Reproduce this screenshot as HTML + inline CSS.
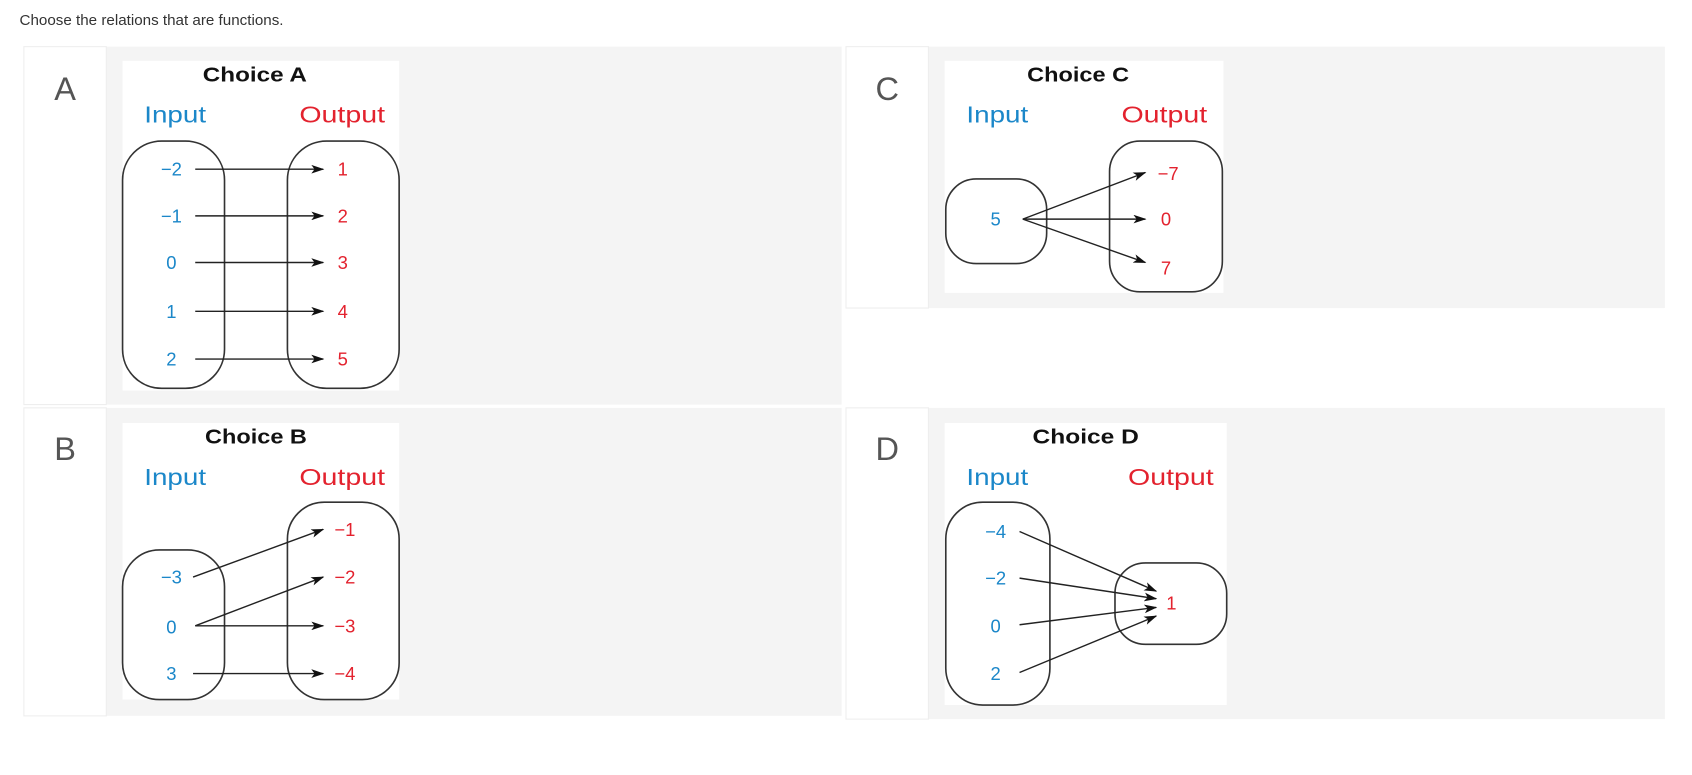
<!DOCTYPE html>
<html><head><meta charset="utf-8"><style>
html,body{margin:0;padding:0;background:#fff;width:1692px;height:775px;overflow:hidden}
svg{display:block}
.t{font-family:"Liberation Sans",sans-serif}
.ti{font-family:"Liberation Sans",sans-serif;font-weight:bold;font-size:19px;fill:#111}
.in{font-family:"Liberation Sans",sans-serif;font-size:21px;fill:#1b87c9}
.out{font-family:"Liberation Sans",sans-serif;font-size:21px;fill:#e3222e}
.ni{font-family:"Liberation Sans",sans-serif;font-size:17px;fill:#1b87c9;text-anchor:middle}
.no{font-family:"Liberation Sans",sans-serif;font-size:17px;fill:#e3222e;text-anchor:middle}
.lt{font-family:"Liberation Sans",sans-serif;font-size:30px;fill:#555;text-anchor:middle}
.ov{fill:none;stroke:#333;stroke-width:1.5}
.ar{stroke:#222;stroke-width:1.3;marker-end:url(#m)}
</style></head><body>
<svg width="1692" height="775" viewBox="0 0 1560 714.5">
<defs><marker id="m" markerWidth="12" markerHeight="8" refX="11" refY="4" orient="auto" markerUnits="userSpaceOnUse"><path d="M0,0 L12,4 L0,8 L3,4 z" fill="#111"/></marker></defs>
<text class="t" x="18" y="23" font-size="14" fill="#333">Choose the relations that are functions.</text>
<rect x="22" y="43" width="754" height="330" fill="#f4f4f4"/><rect x="22" y="43" width="76" height="330" fill="#fff" stroke="#eee"/>
<rect x="780" y="43" width="755" height="241" fill="#f4f4f4"/><rect x="780" y="43" width="76" height="241" fill="#fff" stroke="#eee"/>
<rect x="22" y="376" width="754" height="284" fill="#f4f4f4"/><rect x="22" y="376" width="76" height="284" fill="#fff" stroke="#eee"/>
<rect x="780" y="376" width="755" height="287" fill="#f4f4f4"/><rect x="780" y="376" width="76" height="287" fill="#fff" stroke="#eee"/>
<text class="lt" x="60" y="92">A</text><text class="lt" x="818" y="92">C</text>
<text class="lt" x="60" y="424">B</text><text class="lt" x="818" y="424">D</text>
<!-- A -->
<rect x="113" y="56" width="255" height="304" fill="#fff"/>
<text class="ti" x="187" y="75" textLength="96" lengthAdjust="spacingAndGlyphs">Choice A</text>
<text class="in" x="133" y="113" textLength="57" lengthAdjust="spacingAndGlyphs">Input</text><text class="out" x="276" y="113" textLength="79" lengthAdjust="spacingAndGlyphs">Output</text>
<rect class="ov" x="113" y="130" width="94" height="228" rx="36"/>
<rect class="ov" x="265" y="130" width="103" height="228" rx="36"/>
<text class="ni" x="158" y="162">−2</text><text class="no" x="316" y="162">1</text>
<text class="ni" x="158" y="205">−1</text><text class="no" x="316" y="205">2</text>
<text class="ni" x="158" y="248">0</text><text class="no" x="316" y="248">3</text>
<text class="ni" x="158" y="293">1</text><text class="no" x="316" y="293">4</text>
<text class="ni" x="158" y="337">2</text><text class="no" x="316" y="337">5</text>
<line class="ar" x1="180" y1="156" x2="298" y2="156"/>
<line class="ar" x1="180" y1="199" x2="298" y2="199"/>
<line class="ar" x1="180" y1="242" x2="298" y2="242"/>
<line class="ar" x1="180" y1="287" x2="298" y2="287"/>
<line class="ar" x1="180" y1="331" x2="298" y2="331"/>
<!-- C -->
<rect x="871" y="56" width="257" height="214" fill="#fff"/>
<text class="ti" x="947" y="75" textLength="94" lengthAdjust="spacingAndGlyphs">Choice C</text>
<text class="in" x="891" y="113" textLength="57" lengthAdjust="spacingAndGlyphs">Input</text><text class="out" x="1034" y="113" textLength="79" lengthAdjust="spacingAndGlyphs">Output</text>
<rect class="ov" x="872" y="165" width="93" height="78" rx="28"/>
<rect class="ov" x="1023" y="130" width="104" height="139" rx="28"/>
<text class="ni" x="918" y="208">5</text>
<text class="no" x="1077" y="166">−7</text><text class="no" x="1075" y="208">0</text><text class="no" x="1075" y="253">7</text>
<line class="ar" x1="943" y1="202" x2="1056" y2="159"/>
<line class="ar" x1="943" y1="202" x2="1056" y2="202"/>
<line class="ar" x1="943" y1="202" x2="1056" y2="242"/>
<!-- B -->
<rect x="113" y="390" width="255" height="255" fill="#fff"/>
<text class="ti" x="189" y="409" textLength="94" lengthAdjust="spacingAndGlyphs">Choice B</text>
<text class="in" x="133" y="447" textLength="57" lengthAdjust="spacingAndGlyphs">Input</text><text class="out" x="276" y="447" textLength="79" lengthAdjust="spacingAndGlyphs">Output</text>
<rect class="ov" x="113" y="507" width="94" height="138" rx="34"/>
<rect class="ov" x="265" y="463" width="103" height="182" rx="34"/>
<text class="ni" x="158" y="538">−3</text><text class="ni" x="158" y="584">0</text><text class="ni" x="158" y="627">3</text>
<text class="no" x="318" y="494">−1</text><text class="no" x="318" y="538">−2</text><text class="no" x="318" y="583">−3</text><text class="no" x="318" y="627">−4</text>
<line class="ar" x1="178" y1="532" x2="298" y2="488"/>
<line class="ar" x1="180" y1="577" x2="298" y2="532"/>
<line class="ar" x1="180" y1="577" x2="298" y2="577"/>
<line class="ar" x1="178" y1="621" x2="298" y2="621"/>
<!-- D -->
<rect x="871" y="390" width="260" height="260" fill="#fff"/>
<text class="ti" x="952" y="409" textLength="98" lengthAdjust="spacingAndGlyphs">Choice D</text>
<text class="in" x="891" y="447" textLength="57" lengthAdjust="spacingAndGlyphs">Input</text><text class="out" x="1040" y="447" textLength="79" lengthAdjust="spacingAndGlyphs">Output</text>
<rect class="ov" x="872" y="463" width="96" height="187" rx="34"/>
<rect class="ov" x="1028" y="519" width="103" height="75" rx="28"/>
<text class="ni" x="918" y="496">−4</text><text class="ni" x="918" y="539">−2</text><text class="ni" x="918" y="583">0</text><text class="ni" x="918" y="627">2</text>
<text class="no" x="1080" y="562">1</text>
<line class="ar" x1="940" y1="490" x2="1066" y2="545"/>
<line class="ar" x1="940" y1="533" x2="1066" y2="552"/>
<line class="ar" x1="940" y1="576" x2="1066" y2="560"/>
<line class="ar" x1="940" y1="620" x2="1066" y2="568"/>
</svg>
</body></html>
